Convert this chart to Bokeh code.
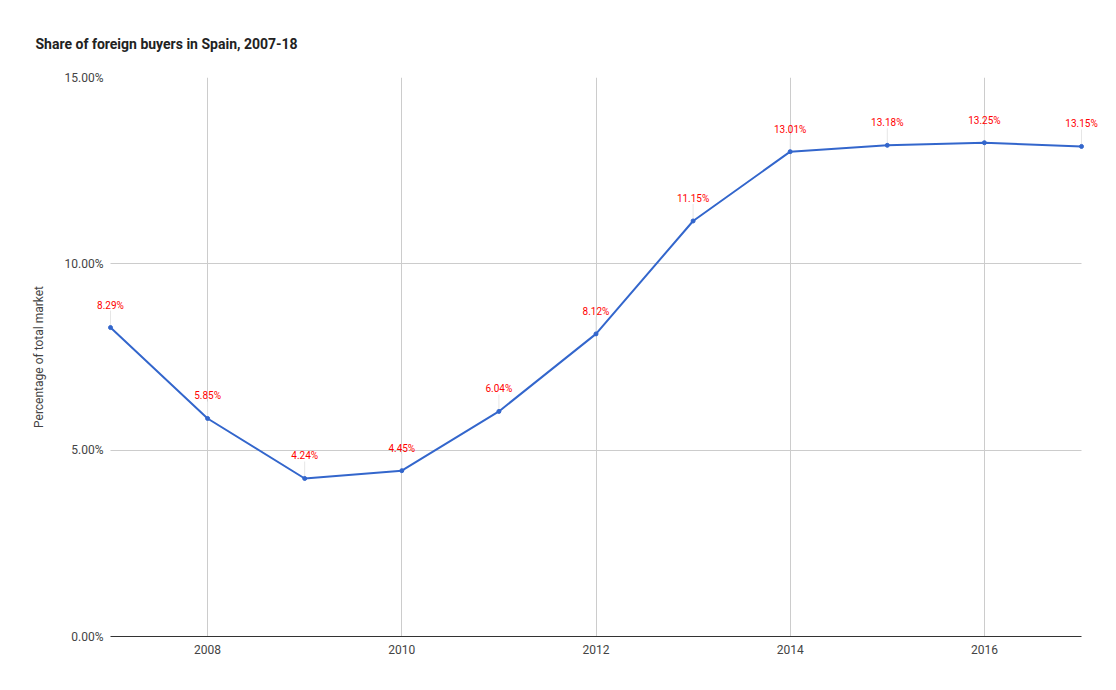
from bokeh.plotting import figure
from bokeh.models import ColumnDataSource, FixedTicker, LabelSet, Range1d
from bokeh.core.properties import value
from bokeh.embed import file_html
from bokeh.resources import INLINE

years = [2007, 2008, 2009, 2010, 2011, 2012, 2013, 2014, 2015, 2016, 2017]
share = [8.29, 5.85, 4.24, 4.45, 6.04, 8.12, 11.15, 13.01, 13.18, 13.25, 13.15]
share_labels = ["8.29%", "5.85%", "4.24%", "4.45%", "6.04%", "8.12%", "11.15%",
                "13.01%", "13.18%", "13.25%", "13.15%"]
y_ticks = [0, 5, 10, 15]
y_tick_labels = ["0.00%", "5.00%", "10.00%", "15.00%"]
x_ticks = [2008, 2010, 2012, 2014, 2016]
x_tick_labels = ["2008", "2010", "2012", "2014", "2016"]

FONT = "Roboto"
W, H = 1110, 690
# desired plot-area pixels for first/last year
PX_FIRST, PX_LAST = 110, 1081
BORDER_L, BORDER_R = 90, 10
BORDER_T, BORDER_B = 77, 54
frame_h = H - BORDER_T - BORDER_B
y_max = 15.0

k = (PX_LAST - PX_FIRST) / (years[-1] - years[0])  # px per year
x_start = years[0] - (PX_FIRST - BORDER_L) / k
x_end = years[-1] + ((W - BORDER_R) - PX_LAST) / k

stem_px = 17
stem = stem_px * y_max / frame_h

src = ColumnDataSource(dict(x=years, y=share, lab=share_labels,
                            ytop=[v + stem for v in share]))

p = figure(width=W, height=H, output_backend="svg", toolbar_location=None,
           x_range=Range1d(x_start, x_end), y_range=Range1d(0, y_max),
           min_border_left=BORDER_L, min_border_right=BORDER_R,
           min_border_top=BORDER_T, min_border_bottom=BORDER_B,
           title="Share of foreign buyers in Spain, 2007-18")
p.outline_line_color = None
p.background_fill_color = "white"
p.border_fill_color = "white"

p.title.text_font = FONT
p.title.text_font_size = "14px"
p.title.text_font_style = "bold"
p.title.text_color = "#222222"
p.title.align = "left"
p.title.offset = 35 - BORDER_L
p.title.standoff = 51

# axes
p.yaxis.ticker = FixedTicker(ticks=y_ticks)
p.yaxis.major_label_overrides = dict(zip(y_ticks, y_tick_labels))
p.yaxis.axis_line_color = None
p.yaxis.major_tick_line_color = None
p.yaxis.minor_tick_line_color = None
p.yaxis.major_label_text_font = FONT
p.yaxis.major_label_text_font_size = "12px"
p.yaxis.major_label_text_color = "#444444"
p.yaxis.major_label_standoff = -19
p.yaxis.axis_label = "Percentage of total market"
p.yaxis.axis_label_text_font = FONT
p.yaxis.axis_label_text_font_size = "12px"
p.yaxis.axis_label_text_font_style = "normal"
p.yaxis.axis_label_text_color = "#444444"
p.yaxis.axis_label_standoff = 16

p.xaxis.ticker = FixedTicker(ticks=x_ticks)
p.xaxis.bounds = (years[0], years[-1])
p.xaxis.major_label_overrides = dict(zip(x_ticks, x_tick_labels))
p.xaxis.axis_line_color = "#333333"
p.xaxis.axis_line_width = 1
p.xaxis.major_tick_line_color = None
p.xaxis.minor_tick_line_color = None
p.xaxis.major_label_text_font = FONT
p.xaxis.major_label_text_font_size = "12px"
p.xaxis.major_label_text_color = "#444444"
p.xaxis.major_label_standoff = 2

p.xgrid.ticker = FixedTicker(ticks=x_ticks)
p.ygrid.ticker = FixedTicker(ticks=y_ticks)
p.ygrid.cross_bounds = (years[0], years[-1])
p.xgrid.grid_line_color = "#cccccc"
p.ygrid.grid_line_color = "#cccccc"

# stems
p.segment(x0="x", y0="y", x1="x", y1="ytop", source=src,
          line_color="#e6e6e6", line_width=1)
# line and points
p.line(x="x", y="y", source=src, line_color="#3366cc", line_width=2)
p.scatter(x="x", y="y", source=src, size=4, fill_color="#3366cc",
          line_color="#3366cc")

labels = LabelSet(x="x", y="y", text="lab", source=src, x_offset=0, y_offset=17,
                  text_align="center", text_baseline="bottom",
                  text_font=value(FONT), text_font_size=value("10px"),
                  text_color="#ff0000")
p.add_layout(labels)

open("out.html", "w").write(file_html(p, INLINE))
